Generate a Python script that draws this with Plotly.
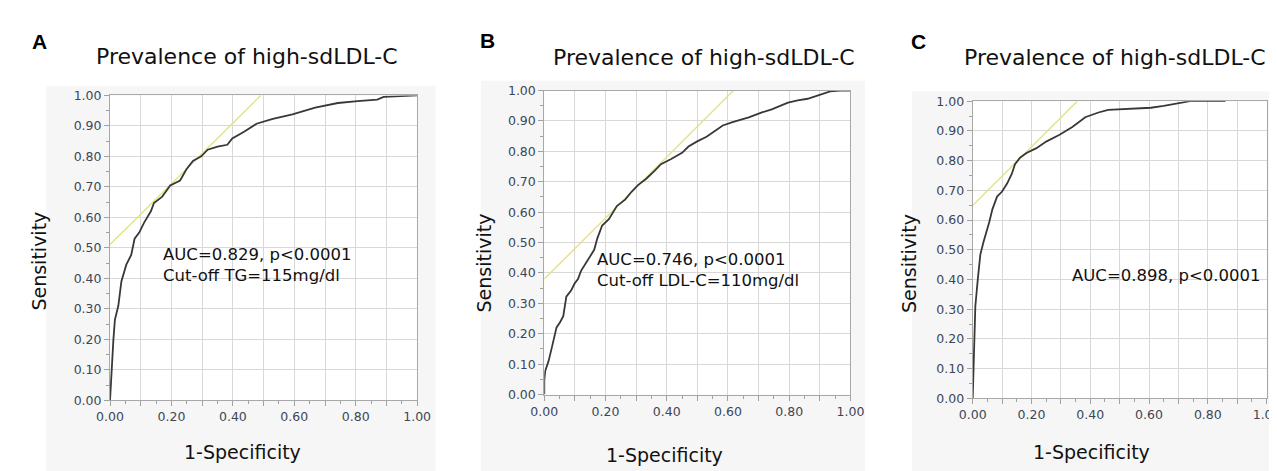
import plotly.graph_objects as go

W, H = 1277, 471

# ---------------- data ----------------
panel_letters = ["A", "B", "C"]
panel_titles = ["Prevalence of high-sdLDL-C"] * 3

fpr_a = [0.0, 0.002, 0.005, 0.011, 0.016, 0.027, 0.037, 0.053, 0.069, 0.080, 0.095, 0.111,
         0.133, 0.143, 0.170, 0.196, 0.228, 0.249, 0.270, 0.297, 0.318, 0.350, 0.382, 0.398,
         0.435, 0.477, 0.530, 0.594, 0.668, 0.742, 0.806, 0.870, 0.891, 0.933, 0.975, 1.0]
tpr_a = [0.0, 0.042, 0.095, 0.200, 0.265, 0.310, 0.390, 0.445, 0.477, 0.530, 0.550, 0.583,
         0.620, 0.647, 0.668, 0.705, 0.721, 0.758, 0.785, 0.800, 0.822, 0.832, 0.838, 0.859,
         0.880, 0.907, 0.923, 0.938, 0.960, 0.975, 0.981, 0.986, 0.995, 0.997, 1.0, 1.0]

fpr_b = [0.0, 0.0, 0.003, 0.014, 0.024, 0.035, 0.040, 0.051, 0.062, 0.072, 0.088, 0.099,
         0.110, 0.120, 0.136, 0.152, 0.163, 0.173, 0.189, 0.211, 0.237, 0.264, 0.285, 0.306,
         0.333, 0.360, 0.381, 0.413, 0.450, 0.471, 0.498, 0.530, 0.562, 0.583, 0.615, 0.668,
         0.711, 0.743, 0.796, 0.828, 0.860, 0.891, 0.934, 0.966, 1.0]
tpr_b = [0.0, 0.046, 0.078, 0.110, 0.152, 0.194, 0.221, 0.237, 0.258, 0.322, 0.343, 0.365,
         0.380, 0.407, 0.434, 0.460, 0.476, 0.513, 0.556, 0.577, 0.620, 0.641, 0.667, 0.689,
         0.710, 0.736, 0.758, 0.774, 0.795, 0.816, 0.832, 0.848, 0.869, 0.885, 0.896, 0.912,
         0.928, 0.938, 0.960, 0.968, 0.973, 0.983, 0.997, 1.0, 1.0]

fpr_c = [0.0, 0.002, 0.006, 0.009, 0.017, 0.026, 0.037, 0.044, 0.056, 0.067, 0.083, 0.100,
         0.117, 0.133, 0.144, 0.161, 0.183, 0.217, 0.250, 0.294, 0.339, 0.383, 0.428, 0.461,
         0.517, 0.606, 0.650, 0.706, 0.739, 0.800, 0.860]
tpr_c = [0.0, 0.060, 0.200, 0.310, 0.397, 0.484, 0.527, 0.549, 0.592, 0.636, 0.679, 0.696,
         0.723, 0.755, 0.788, 0.810, 0.826, 0.842, 0.864, 0.886, 0.913, 0.946, 0.962, 0.971,
         0.973, 0.978, 0.984, 0.995, 1.0, 1.0, 1.0]

# tangent (cut-off) line end points
tan_x = [[0.0, 0.491], [0.0, 0.618], [0.0, 0.356]]
tan_y = [[0.511, 1.0], [0.380, 1.0], [0.649, 1.0]]

annot_texts = ["AUC=0.829, p<0.0001<br>Cut-off TG=115mg/dl",
               "AUC=0.746, p<0.0001<br>Cut-off LDL-C=110mg/dl",
               "AUC=0.898, p<0.0001"]

tick_vals = [0.0, 0.1, 0.2, 0.3, 0.4, 0.5, 0.6, 0.7, 0.8, 0.9, 1.0]
x_tick_text = ["0.00", "", "0.20", "", "0.40", "", "0.60", "", "0.80", "", "1.00"]
y_tick_text = ["0.00", "0.10", "0.20", "0.30", "0.40", "0.50", "0.60", "0.70", "0.80", "0.90", "1.00"]

x_title = "1-Specificity"
y_title = "Sensitivity"

# ---------------- layout geometry (pixels) ----------------
plot_boxes = [(90, 404, 82, 397), (534, 847, 77, 391), (972, 1272.5, 88, 395)]
gray_boxes = [(25, 423, 72, 471), (469, 862, 67, 471), (910, 1277, 78, 471)]
letter_pos = [(18, 26), (476, 25), (917, 26)]
title_pos = [(230, 42), (697, 43), (1117, 43)]
ylab_pos = [(17, 253), (472, 255), (907, 256)]
xlab_pos = [(225, 450), (657, 453), (1093, 450)]
annot_pos = [(142, 257), (586, 262), (1071, 268)]


def px(x):
    return x / W


def py(y):
    return 1 - y / H


fpr = [fpr_a, fpr_b, fpr_c]
tpr = [tpr_a, tpr_b, tpr_c]

fig = go.Figure()
layout = dict(
    width=W, height=H, margin=dict(l=0, r=0, t=0, b=0),
    paper_bgcolor="white", plot_bgcolor="rgba(0,0,0,0)",
    showlegend=False, font=dict(family="DejaVu Sans", color="#222"),
)
shapes = []
annotations = []

for i in range(3):
    sfx = "" if i == 0 else str(i + 1)
    xa, ya = "x" + sfx, "y" + sfx
    x0, x1, y0, y1 = plot_boxes[i]
    gx0, gx1, gy0, gy1 = gray_boxes[i]

    shapes.append(dict(type="rect", xref="paper", yref="paper", layer="below",
                       x0=px(gx0), x1=px(gx1), y0=py(gy1), y1=py(gy0),
                       fillcolor="#f6f6f6", line=dict(width=0)))
    shapes.append(dict(type="rect", xref=xa + " domain", yref=ya + " domain", layer="below",
                       x0=0, x1=1, y0=0, y1=1, fillcolor="white", line=dict(width=0)))

    fig.add_trace(go.Scatter(x=tan_x[i], y=tan_y[i], mode="lines", xaxis=xa, yaxis=ya,
                             line=dict(color="#e6e284", width=1.4), hoverinfo="skip"))
    fig.add_trace(go.Scatter(x=fpr[i], y=tpr[i], mode="lines", xaxis=xa, yaxis=ya,
                             line=dict(color="#383838", width=1.8)))

    common = dict(range=[0, 1], showgrid=True, gridcolor="#d8d8d8", gridwidth=1,
                  showline=True, linecolor="#a8a8a8", linewidth=1, mirror=True,
                  zeroline=False, ticks="outside", ticklen=5, tickcolor="#a0a0a0",
                  tickfont=dict(family="DejaVu Sans", size=12.5, color="#3d4656"),
                  tickmode="array", tickvals=tick_vals,
                  minor=dict(dtick=0.05, ticks="outside", ticklen=3, tickcolor="#a0a0a0",
                             showgrid=False))
    layout["xaxis" + sfx] = dict(common, domain=[px(x0), min(px(x1), 1.0)], anchor=ya,
                                 ticktext=x_tick_text)
    layout["yaxis" + sfx] = dict(common, domain=[py(y1), py(y0)], anchor=xa,
                                 ticktext=y_tick_text)

    lx, ly = letter_pos[i]
    annotations.append(dict(text="<b>" + panel_letters[i] + "</b>", xref="paper", yref="paper",
                            x=px(lx), y=py(ly), showarrow=False, xanchor="center", yanchor="middle",
                            font=dict(family="Liberation Sans", size=21, color="black")))
    tx, ty = title_pos[i]
    annotations.append(dict(text=panel_titles[i], xref="paper", yref="paper",
                            x=px(tx), y=py(ty), showarrow=False, xanchor="center", yanchor="middle",
                            font=dict(family="DejaVu Sans", size=22, color="#111")))
    yx, yy = ylab_pos[i]
    annotations.append(dict(text=y_title, xref="paper", yref="paper", textangle=-90,
                            x=px(yx), y=py(yy), showarrow=False, xanchor="center", yanchor="middle",
                            font=dict(family="DejaVu Sans", size=19, color="#111")))
    xx, xy = xlab_pos[i]
    annotations.append(dict(text=x_title, xref="paper", yref="paper",
                            x=px(xx), y=py(xy), showarrow=False, xanchor="center", yanchor="middle",
                            font=dict(family="DejaVu Sans", size=19, color="#111")))
    ax, ay = annot_pos[i]
    annotations.append(dict(text=annot_texts[i], xref="paper", yref="paper", align="left",
                            x=px(ax), y=py(ay), showarrow=False, xanchor="left", yanchor="middle",
                            font=dict(family="DejaVu Sans", size=16.5, color="#111")))

layout["shapes"] = shapes
layout["annotations"] = annotations
fig.update_layout(**layout)
fig.write_html("out.html")
